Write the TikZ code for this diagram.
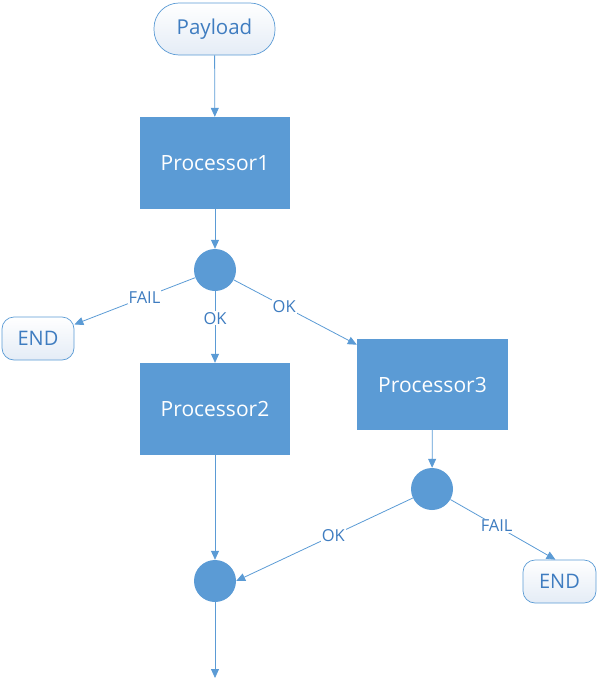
\documentclass[tikz,border=0pt]{standalone}
\usepackage{fontspec}
\setmainfont{Open Sans}
\usetikzlibrary{arrows.meta}
\definecolor{flowblue}{RGB}{91,155,213}
\definecolor{flowtext}{RGB}{62,124,192}
\definecolor{flowpale}{RGB}{228,236,246}
\tikzset{
  terminal/.style={draw=flowblue, line width=0.7pt, rounded corners=12pt,
    top color=white, bottom color=flowpale, text=flowtext,
    minimum width=72pt, minimum height=43pt, font=\fontsize{20}{22}\selectfont},
  process/.style={fill=flowblue, text=white, minimum width=150pt,
    minimum height=92pt, font=\fontsize{21}{24}\selectfont},
  junction/.style={circle, fill=flowblue, minimum size=42pt, inner sep=0pt},
  flow/.style={draw=flowblue, line width=0.8pt, -{Triangle[length=9pt,width=8pt]}},
  guard/.style={fill=white, text=flowtext, inner sep=1pt, font=\fontsize{16.5}{18}\selectfont}
}
\begin{document}
\begin{tikzpicture}[x=1pt,y=-1pt]
  \useasboundingbox (0,0) rectangle (597,680);
  % Boites
  \node[terminal, rounded corners=25pt, minimum width=121pt, minimum height=52pt,
    font=\fontsize{20.5}{22}\selectfont] (payload) at (214.5,29) {Payload};
  \node[process] (proc1) at (215,163) {Processor1};
  \node[junction] (j1) at (215,270) {};
  \node[terminal] (end1) at (38,338.5) {END};
  \node[process] (proc2) at (215,409) {Processor2};
  \node[process, minimum width=151pt, minimum height=91pt] (proc3) at (432.5,384.5) {Processor3};
  \node[junction] (j2) at (432,489) {};
  \node[terminal, minimum width=73pt] (end2) at (559.5,581.5) {END};
  \node[junction] (j3) at (215,581) {};
  \coordinate (out) at (215,678);
  % Fleches
  \draw[flow] (payload) -- (proc1);
  \draw[flow] (proc1) -- (j1);
  \draw[flow] (j1) -- node[guard, pos=0.42]{FAIL} (end1);
  \draw[flow] (j1) -- node[guard, pos=0.38]{OK} (proc2);
  \draw[flow] (j1) -- node[guard, pos=0.41]{OK} (proc3);
  \draw[flow] (proc3) -- (j2);
  \draw[flow] (j2) -- node[guard, pos=0.44]{FAIL} ([xshift=-4pt]end2.north);
  \draw[flow] (j2) -- node[guard, pos=0.45]{OK} (j3.east);
  \draw[flow] (proc2) -- (j3);
  \draw[flow] (j3) -- (out);
\end{tikzpicture}
\end{document}
